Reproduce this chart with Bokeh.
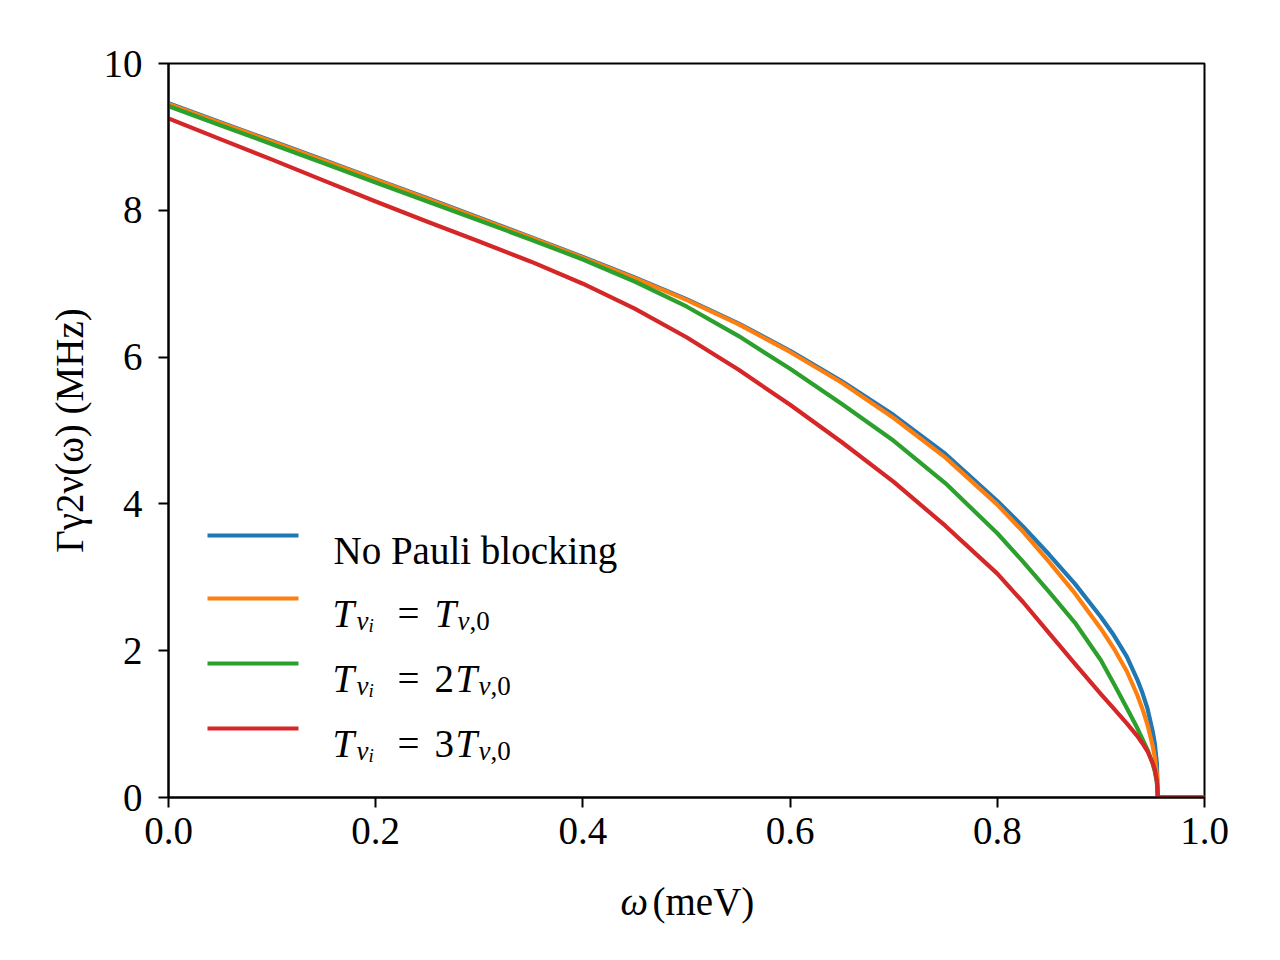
from bokeh.plotting import figure
from bokeh.models import Label, FixedTicker, Range1d
from bokeh.layouts import column
from bokeh.embed import file_html
from bokeh.resources import INLINE

# ---------------- data ----------------
omega = [0.0, 0.05, 0.1, 0.15, 0.2, 0.25, 0.3, 0.35, 0.4, 0.45, 0.5, 0.55,
         0.6, 0.65, 0.7, 0.75, 0.8, 0.825, 0.85, 0.875, 0.9, 0.9125, 0.925,
         0.935, 0.94, 0.945, 0.95, 0.952, 0.954, 0.955, 1.0]

no_pauli = [9.46, 9.20, 8.945, 8.685, 8.425, 8.165, 7.90, 7.635, 7.365, 7.085,
            6.79, 6.46, 6.085, 5.67, 5.21, 4.68, 4.04, 3.69, 3.31, 2.91, 2.46,
            2.21, 1.92, 1.61, 1.43, 1.21, 0.90, 0.74, 0.47, 0.0, 0.0]
t_1 = [9.45, 9.19, 8.935, 8.675, 8.415, 8.155, 7.89, 7.625, 7.355, 7.075,
       6.78, 6.45, 6.07, 5.65, 5.17, 4.63, 3.99, 3.62, 3.21, 2.78, 2.30,
       2.03, 1.72, 1.40, 1.21, 0.99, 0.70, 0.55, 0.32, 0.0, 0.0]
t_2 = [9.42, 9.16, 8.90, 8.64, 8.38, 8.12, 7.86, 7.60, 7.33, 7.03, 6.69,
       6.29, 5.84, 5.36, 4.86, 4.28, 3.60, 3.21, 2.80, 2.38, 1.87, 1.55,
       1.22, 0.95, 0.80, 0.65, 0.46, 0.36, 0.21, 0.0, 0.0]
t_3 = [9.25, 8.97, 8.69, 8.405, 8.12, 7.845, 7.575, 7.30, 7.00, 6.66, 6.27,
       5.83, 5.35, 4.84, 4.30, 3.70, 3.05, 2.66, 2.24, 1.82, 1.41, 1.21,
       1.01, 0.84, 0.74, 0.63, 0.47, 0.38, 0.23, 0.0, 0.0]

series = [no_pauli, t_1, t_2, t_3]
colors = ["#1f77b4", "#ff7f0e", "#2ca02c", "#d62728"]
legend_multipliers = ["", "", "2", "3"]

x_ticks = [0.0, 0.2, 0.4, 0.6, 0.8, 1.0]
x_tick_labels = ["0.0", "0.2", "0.4", "0.6", "0.8", "1.0"]
y_ticks = [0, 2, 4, 6, 8, 10]
y_tick_labels = ["0", "2", "4", "6", "8", "10"]
y_title = "Γγ2ν(ω) (MHz)"

# ---------------- layout ----------------
FONT = "Liberation Serif"
FS = 39
FS_SUB = 27
FS_SUB2 = 19
LW = 4.2

W, H = 1264, 944
FL, FR, FT, FB = 168, 1204, 63, 797   # frame edges (page px)
MAIN_H = 869                           # height of the main plot
X0, X1, Y0, Y1 = 0.0, 1.0, 0.0, 10.0


def X(px):
    return X0 + (px - FL) / (FR - FL) * (X1 - X0)


def Y(py):
    return Y0 + (FB - py) / (FB - FT) * (Y1 - Y0)


p = figure(frame_width=FR - FL, frame_height=FB - FT,
           x_range=Range1d(X0, X1), y_range=Range1d(Y0, Y1),
           output_backend="svg", toolbar_location=None,
           min_border_left=FL, min_border_right=W - FR,
           min_border_top=FT, min_border_bottom=MAIN_H - FB)
p.grid.visible = False
p.background_fill_color = "white"
p.border_fill_color = "white"
p.outline_line_color = "black"
p.outline_line_width = 2
p.outline_line_alpha = 1.0

for ax in (p.xaxis[0], p.yaxis[0]):
    ax.axis_line_width = 2
    ax.axis_line_color = "black"
    ax.major_tick_line_width = 2
    ax.major_tick_line_color = "black"
    ax.major_tick_out = 10
    ax.major_tick_in = 0
    ax.minor_tick_out = 0
    ax.minor_tick_in = 0
    ax.major_label_text_font = FONT
    ax.major_label_text_font_size = f"{FS}px"
    ax.major_label_text_color = "black"

p.xaxis.axis_label = None
p.xaxis.ticker = FixedTicker(ticks=x_ticks)
p.xaxis.major_label_overrides = {t: l for t, l in zip(x_ticks, x_tick_labels)}
p.xaxis.major_label_standoff = 10

p.yaxis.ticker = FixedTicker(ticks=y_ticks)
p.yaxis.major_label_standoff = 16
p.yaxis.major_label_overrides = {t: l for t, l in zip(y_ticks, y_tick_labels)}
p.yaxis.axis_label = y_title
p.yaxis.axis_label_text_font = FONT
p.yaxis.axis_label_text_font_size = f"{FS}px"
p.yaxis.axis_label_text_font_style = "normal"
p.yaxis.axis_label_text_color = "black"
p.yaxis.axis_label_standoff = 10

for ys, c in zip(series, colors):
    p.line(omega, ys, line_color=c, line_width=LW, line_join="round")


def lab(fig, text, x, y, size=FS, italic=False):
    fig.add_layout(Label(x=x, y=y, text=text, text_font=FONT,
                         text_font_size=f"{size}px",
                         text_font_style="italic" if italic else "normal",
                         text_color="black", text_align="left",
                         text_baseline="alphabetic"))


# ---- legend (inside the frame)
rows = [550, 613, 678, 743]     # text baselines
sw_x0, sw_x1 = 207, 298
p.segment(x0=[X(sw_x0)] * 4, x1=[X(sw_x1)] * 4,
          y0=[Y(r - 15) for r in rows], y1=[Y(r - 15) for r in rows],
          line_color=colors, line_width=LW)


def plab(text, px, py, **kw):
    lab(p, text, X(px), Y(py), **kw)


plab("No Pauli blocking", 333, rows[0])
for r, m in zip(rows[1:], legend_multipliers[1:]):
    plab("T", 332, r, italic=True)
    plab("ν", 356, r + 7, size=FS_SUB, italic=True)
    plab("i", 368, r + 12, size=FS_SUB2, italic=True)
    plab("=", 397, r)
    xx = 434
    if m:
        plab(m, xx, r)
        xx += 21
    plab("T", xx, r, italic=True)
    plab("ν", xx + 23, r + 7, size=FS_SUB, italic=True)
    plab(",0", xx + 35, r + 7, size=FS_SUB)


# ---- strip below the plot for the x-axis title (omega italic, unit upright)
# (its frame gets aligned with the main frame by the column layout, so its
#  x range spans the main frame's page-pixel extent)
xlab = figure(width=W, height=H - MAIN_H,
              x_range=Range1d(FL, FR), y_range=Range1d(0, H - MAIN_H),
              x_axis_type=None, y_axis_type=None,
              output_backend="svg", toolbar_location=None,
              min_border_left=0, min_border_right=0,
              min_border_top=0, min_border_bottom=0)
xlab.grid.visible = False
xlab.outline_line_color = None
xlab.background_fill_color = "white"
xlab.border_fill_color = "white"


def xlb(text, px, py, **kw):
    lab(xlab, text, px, H - py, **kw)


xlb("ω", 620, 901, italic=True)
xlb("(meV)", 652, 901)

layout = column(p, xlab, spacing=0)
open("out.html", "w").write(file_html(layout, INLINE))
